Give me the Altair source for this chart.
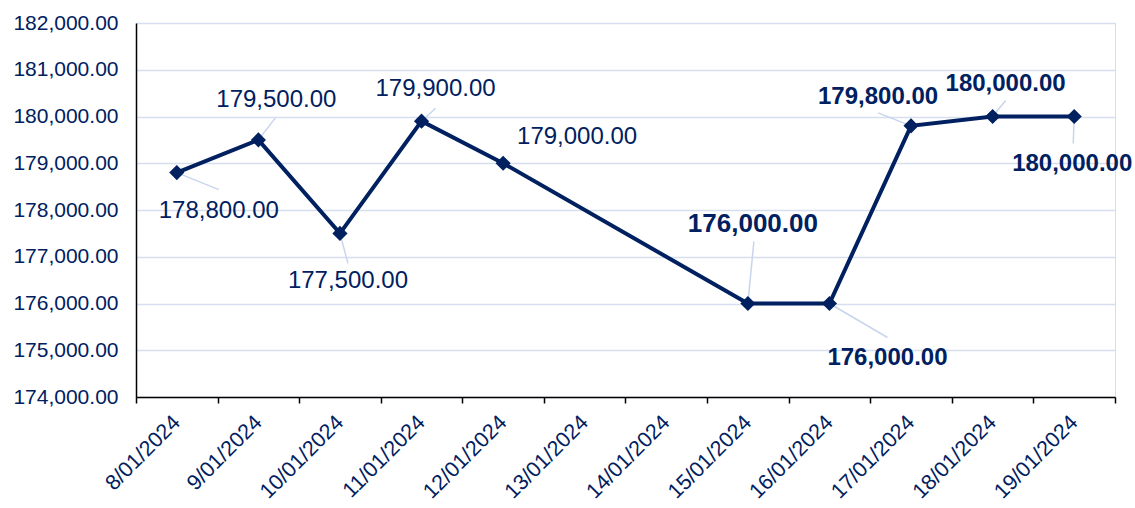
import altair as alt
import pandas as pd

all_dates = ["8/01/2024", "9/01/2024", "10/01/2024", "11/01/2024", "12/01/2024",
             "13/01/2024", "14/01/2024", "15/01/2024", "16/01/2024", "17/01/2024",
             "18/01/2024", "19/01/2024"]
point_dates = ["8/01/2024", "9/01/2024", "10/01/2024", "11/01/2024", "12/01/2024",
               "15/01/2024", "16/01/2024", "17/01/2024", "18/01/2024", "19/01/2024"]
prices = [178800, 179500, 177500, 179900, 179000, 176000, 176000, 179800, 180000, 180000]
y_ticks = [174000, 175000, 176000, 177000, 178000, 179000, 180000, 181000, 182000]

# label styling (pixel offsets of label centre and leader end from the point)
label_dx = [42, 18, 8, 14, 74, 5, 58, -33, 13, -2]
label_dy = [38, -40, 48, -32, -26, -80, 54, -29, -33, 47]
leader_dx = [42, 17, 8, 14, 0, 6, 58, -33, 13, -1]
leader_dy = [17, -22, 30, -13, 0, -62, 34, -13, -16, 27]
label_bold = [False, False, False, False, False, True, True, True, True, True]
label_size = [24, 24, 24, 24, 24, 26, 24, 24, 24, 24]

df = pd.DataFrame({
    "date": point_dates, "price": prices,
    "dx": label_dx, "dy": label_dy, "ldx": leader_dx, "ldy": leader_dy,
    "bold": label_bold, "fs": label_size,
})

NAVY = "#002060"
FONT = "Liberation Sans"

x = alt.X("date:O", sort=all_dates,
          scale=alt.Scale(type="band", domain=all_dates, paddingInner=0, paddingOuter=0),
          axis=alt.Axis(title=None, labelAngle=-45, labelAlign="right", labelBaseline="middle",
                        labelFontSize=21.5, labelColor=NAVY, labelFont=FONT, labelPadding=16,
                        tickBand="extent", tickColor="#000000", tickSize=6, tickWidth=1.5,
                        domainColor="#000000", domainWidth=1.5, grid=False))
y = alt.Y("price:Q",
          scale=alt.Scale(domain=[174000, 182000], nice=False, zero=False),
          axis=alt.Axis(title=None, values=y_ticks, format=",.2f", labelFontSize=21,
                        labelColor=NAVY, labelFont=FONT, labelPadding=18, ticks=False,
                        domainColor="#000000", domainWidth=1.5,
                        gridColor="#D6DFF0", gridWidth=1.5))

base = alt.Chart(df)

leaders = base.mark_rule(color="#C8D5EC", strokeWidth=1.5,
                         x2Offset=alt.expr("datum.ldx"), y2Offset=alt.expr("datum.ldy")).encode(
    x=x, y=y, x2="date:O", y2="price:Q")

line = base.mark_line(color=NAVY, strokeWidth=4).encode(x=x, y=y)
pts = base.mark_point(shape="diamond", filled=True, size=230, color=NAVY, opacity=1).encode(x=x, y=y)

text_reg = base.transform_filter("!datum.bold").mark_text(
    font=FONT, color=NAVY, align="center", baseline="middle",
    dx=alt.expr("datum.dx"), dy=alt.expr("datum.dy")).encode(
    x=x, y=y, text=alt.Text("price:Q", format=",.2f"),
    size=alt.Size("fs:Q", scale=None, legend=None))
text_bold = base.transform_filter("datum.bold").mark_text(
    font=FONT, color=NAVY, align="center", baseline="middle", fontWeight="bold",
    dx=alt.expr("datum.dx"), dy=alt.expr("datum.dy")).encode(
    x=x, y=y, text=alt.Text("price:Q", format=",.2f"),
    size=alt.Size("fs:Q", scale=None, legend=None))

chart = alt.layer(leaders, line, pts, text_reg, text_bold).properties(
    width=979, height=374,
    autosize=alt.AutoSizeParams(type="none"),
    padding={"left": 136, "top": 23, "right": 20, "bottom": 111},
).configure_view(stroke=None).configure(background="white")

chart.save("out.html", embed_options={"renderer": "svg", "actions": False})
